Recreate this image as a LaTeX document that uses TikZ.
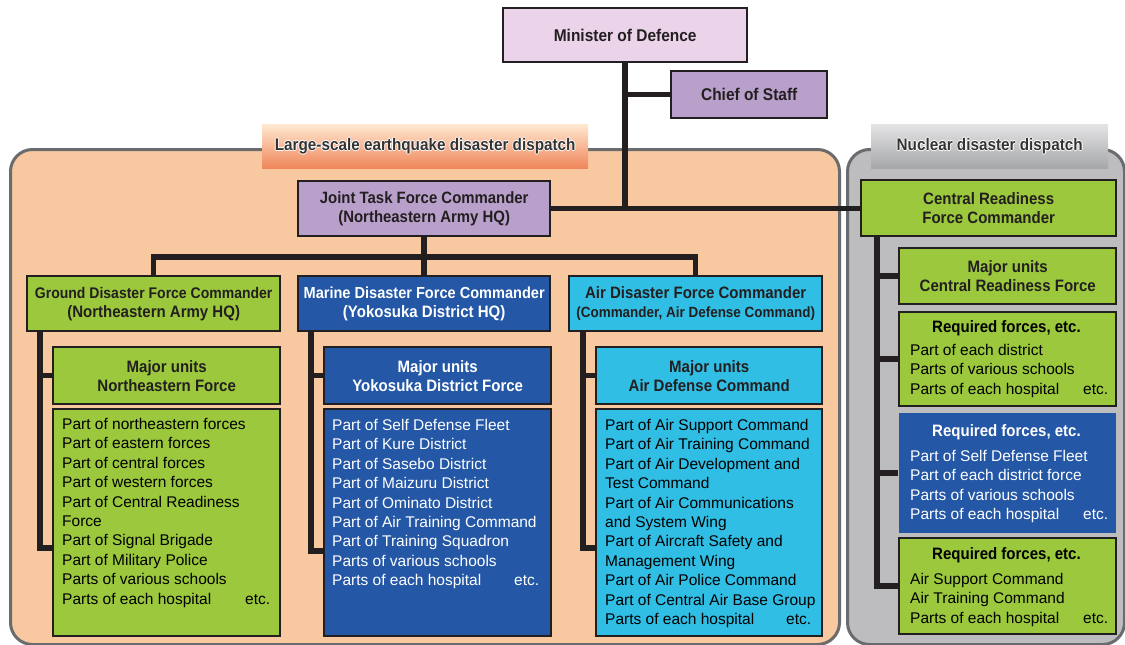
\documentclass[tikz,border=0pt]{standalone}
\usepackage{fontspec}
\setmainfont{Liberation Sans}[BoldFeatures={FakeStretch=0.91}]
\usetikzlibrary{calc}
\definecolor{lc}{HTML}{231F20}
\definecolor{pinkbox}{HTML}{EBD3E9}
\definecolor{purplebox}{HTML}{B8A0CB}
\definecolor{greenbox}{HTML}{9BC83C}
\definecolor{bluebox}{HTML}{2457A6}
\definecolor{cyanbox}{HTML}{30BEE4}
\definecolor{orangepanel}{HTML}{F8C9A1}
\definecolor{graypanel}{HTML}{BDBDC0}
\definecolor{panelborder}{HTML}{6A6B6D}
\definecolor{labeltext}{HTML}{333333}
\newcommand\myList{\fontsize{15.5}{19.4}\selectfont}
\newcommand\myHead{\fontsize{16.5}{19}\selectfont\bfseries}
\newcommand\halotext[1]{\leavevmode\rlap{\textcolor{white}{\hspace*{-0.9pt}#1}}\rlap{\textcolor{white}{\hspace*{0.9pt}#1}}\rlap{\textcolor{white}{\raisebox{0.9pt}{#1}}}\rlap{\textcolor{white}{\raisebox{-0.9pt}{#1}}}#1}
\newcommand\lastline[2]{\hbox to #1{#2\hfil etc.}}
\pgfdeclarelayer{back}
\pgfdeclarelayer{mid}
\pgfsetlayers{back,mid,main}
\begin{document}
\begin{tikzpicture}[x=1pt,y=-1pt,
  panelbox/.style={draw=panelborder, line width=3pt, rounded corners=22pt, anchor=north west, inner sep=0pt},
  lbl/.style={anchor=north west, inner sep=0pt, font=\fontsize{16.8}{19}\selectfont\bfseries, text=labeltext},
  box/.style={draw=lc, line width=2.4pt, inner sep=0pt, anchor=north west, align=center, font=\myHead, text=lc},
  conn/.style={draw=lc, line width=5.5pt},
  listtxt/.style={anchor=north west, inner sep=0pt, align=left, font=\myList},
  reqhead/.style={anchor=center, inner sep=0pt, font=\myHead}
]
\useasboundingbox (0,0) rectangle (1125,645);

% panels
\begin{pgfonlayer}{back}
\node[panelbox, fill=orangepanel, minimum width=829pt, minimum height=495pt] (eqpanel) at (9,148) {};
\node[panelbox, fill=graypanel, minimum width=277pt, minimum height=495pt] (nucpanel) at (846,148) {};
\end{pgfonlayer}
\node[lbl, top color=orange!18!white, bottom color={rgb,255:red,240;green,134;blue,90}, minimum width=326pt, minimum height=44pt] (eqlabel) at (262,124) {\halotext{Large-scale earthquake disaster dispatch}};
\node[lbl, top color={rgb,255:red,228;green,228;blue,229}, bottom color={rgb,255:red,166;green,167;blue,170}, minimum width=237pt, minimum height=44pt] (nuclabel) at (871,124) {\halotext{Nuclear disaster dispatch}};

\coordinate (gk) at (40,548);
\coordinate (mk) at (311,551);
\coordinate (ak) at (583,548);
\coordinate (rk) at (877,0);
\coordinate (bus) at (423,257);

% boxes
\node[box, fill=pinkbox, minimum width=244pt, minimum height=54pt, font=\fontsize{17}{19}\selectfont\bfseries] (minister) at (502,7) {Minister of Defence};
\node[box, fill=purplebox, minimum width=156pt, minimum height=47pt, font=\fontsize{17}{19}\selectfont\bfseries] (chief) at (670,70) {Chief of Staff};
\node[box, fill=purplebox, minimum width=252pt, minimum height=55pt, font=\fontsize{16.4}{19}\selectfont\bfseries] (jtf) at (297,180) {Joint Task Force Commander\\(Northeastern Army HQ)};
\node[box, fill=greenbox, minimum width=255pt, minimum height=56pt] (crf) at (860,179) {Central Readiness\\Force Commander};

\node[box, fill=greenbox, minimum width=253pt, minimum height=55pt] (ground) at (26,275) {{\fontsize{15.4}{19}\selectfont Ground Disaster Force Commander}\\(Northeastern Army HQ)};
\node[box, fill=bluebox, text=white, minimum width=252pt, minimum height=55pt] (marine) at (297,275) {{\fontsize{16}{19}\selectfont Marine Disaster Force Commander}\\(Yokosuka District HQ)};
\node[box, fill=cyanbox, minimum width=253pt, minimum height=55pt] (air) at (568,275) {Air Disaster Force Commander\\{\fontsize{14.8}{19}\selectfont (Commander, Air Defense Command)}};

\node[box, fill=greenbox, minimum width=227pt, minimum height=57pt] (gmajor) at (52,346) {Major units\\Northeastern Force};
\node[box, fill=bluebox, text=white, minimum width=227pt, minimum height=57pt] (mmajor) at (323,346) {Major units\\Yokosuka District Force};
\node[box, fill=cyanbox, minimum width=226pt, minimum height=57pt] (amajor) at (595,346) {Major units\\Air Defense Command};

\node[box, fill=greenbox, minimum width=227pt, minimum height=227pt] (glist) at (52,408) {};
\node[box, fill=bluebox, minimum width=227pt, minimum height=227pt] (mlist) at (323,408) {};
\node[box, fill=cyanbox, minimum width=226pt, minimum height=227pt] (alist) at (595,408) {};

\node[box, fill=greenbox, minimum width=217pt, minimum height=56pt] (rmajor) at (898,247) {Major units\\Central Readiness Force};
\node[box, fill=greenbox, minimum width=217pt, minimum height=94pt] (req1) at (898,311) {};
\node[box, draw=none, fill=bluebox, minimum width=217pt, minimum height=120pt] (req2) at (898,412) {};
\node[box, fill=greenbox, minimum width=217pt, minimum height=96pt] (req3) at (898,537) {};

% list texts
\node[listtxt] (gtext) at (62,418) {Part of northeastern forces\\Part of eastern forces\\Part of central forces\\Part of western forces\\Part of Central Readiness\\Force\\Part of Signal Brigade\\Part of Military Police\\Parts of various schools\\\lastline{208pt}{Parts of each hospital}};
\node[listtxt, text=white] (mtext) at (332,419) {Part of Self Defense Fleet\\Part of Kure District\\Part of Sasebo District\\Part of Maizuru District\\Part of Ominato District\\Part of Air Training Command\\Part of Training Squadron\\Parts of various schools\\\lastline{207pt}{Parts of each hospital}};
\node[listtxt] (atext) at (605,419) {Part of Air Support Command\\Part of Air Training Command\\Part of Air Development and\\Test Command\\Part of Air Communications\\and System Wing\\Part of Aircraft Safety and\\Management Wing\\Part of Air Police Command\\Part of Central Air Base Group\\\lastline{206pt}{Parts of each hospital}};

\node[reqhead] (r1head) at (1006.5,328) {Required forces, etc.};
\node[listtxt] (r1text) at (910,344) {Part of each district\\Parts of various schools\\\lastline{198pt}{Parts of each hospital}};
\node[reqhead, text=white] (r2head) at (1006.5,432) {Required forces, etc.};
\node[listtxt, text=white] (r2text) at (910,450) {Part of Self Defense Fleet\\Part of each district force\\Parts of various schools\\\lastline{198pt}{Parts of each hospital}};
\node[reqhead] (r3head) at (1006.5,555) {Required forces, etc.};
\node[listtxt] (r3text) at (910,573) {Air Support Command\\Air Training Command\\\lastline{198pt}{Parts of each hospital}};

% connectors
\begin{pgfonlayer}{mid}
\draw[conn] (minister.south) -- (minister.south |- jtf.east);
\draw[conn] (minister.south |- chief.west) -- (chief.west);
\draw[conn] (jtf.east) -- (jtf.east -| crf.west);
\draw[conn] (jtf.south) -- (marine.north);
\draw[conn] (ground.north) |- (bus) -| (air.north);
\draw[conn] (ground.south -| gk) |- (glist.west |- gk);
\draw[conn] (gk |- gmajor.west) -- (gmajor.west);
\draw[conn] (marine.south -| mk) |- (mlist.west |- mk);
\draw[conn] (mk |- mmajor.west) -- (mmajor.west);
\draw[conn] (air.south -| ak) |- (alist.west |- ak);
\draw[conn] (ak |- amajor.west) -- (amajor.west);
\draw[conn] (crf.south -| rk) |- (req3.west);
\draw[conn] (rk |- rmajor.west) -- (rmajor.west);
\draw[conn] (rk |- req1.west) -- (req1.west);
\draw[conn] (rk |- req2.west) -- (req2.west);
\end{pgfonlayer}
\end{tikzpicture}
\end{document}
